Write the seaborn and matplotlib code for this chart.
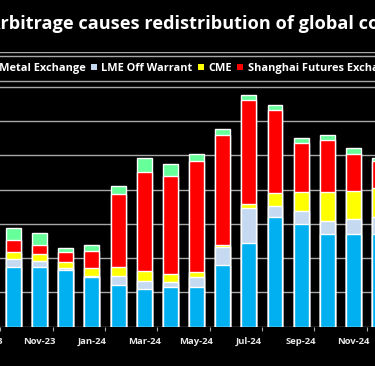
import matplotlib
matplotlib.use("Agg")
import matplotlib.pyplot as plt
from matplotlib.patches import Patch
import seaborn as sns
import numpy as np

sns.set_theme(style="dark", rc={"figure.facecolor": "black", "axes.facecolor": "black",
                                "savefig.facecolor": "black"})
plt.rcParams['font.family'] = ['Open Sans', 'DejaVu Sans']

# monthly stocks, thousand tonnes
months = ["Oct-23", "Nov-23", "Dec-23", "Jan-24", "Feb-24", "Mar-24", "Apr-24", "May-24",
          "Jun-24", "Jul-24", "Aug-24", "Sep-24", "Oct-24", "Nov-24", "Dec-24"]
lme = [173, 173, 166, 145, 121, 111, 116, 115, 181, 245, 319, 300, 271, 270, 271]
lme_off = [25, 20, 6, 4, 26, 22, 14, 30, 50, 101, 33, 36, 38, 44, 48]
cme = [20, 19, 17, 23, 26, 28, 23, 15, 8, 12, 38, 58, 83, 82, 87]
shfe = [36, 26, 30, 50, 215, 291, 288, 323, 320, 303, 243, 142, 154, 109, 76]
bonded = [34, 34, 10, 17, 23, 41, 33, 22, 19, 14, 15, 14, 14, 16, 10]

series = ["London Metal Exchange", "LME Off Warrant", "CME", "Shanghai Futures Exchange",
          "Shanghai Bonded"]
colors = ["#00b0f0", "#c5d9f1", "#ffff00", "#ff0000", "#66ff99"]
tick_labels = ["Sep-23", "Nov-23", "Jan-24", "Mar-24", "May-24", "Jul-24", "Sep-24", "Nov-24"]
title = "Arbitrage causes redistribution of global copper stocks"

layers = np.cumsum(np.array([lme, lme_off, cme, shfe, bonded]), axis=0)

fig = plt.figure(figsize=(3.75, 3.66), dpi=100)
ax = fig.add_axes([-0.0686, 0.1074, 1.1157, 0.7503])

# stacked bars: draw totals first, each lower layer on top
for i in range(len(series) - 1, -1, -1):
    sns.barplot(x=months, y=layers[i], color=colors[i], saturation=1, width=0.57,
                errorbar=None, ax=ax, zorder=2)

ax.set_xlim(-1.5, 14.5)
ax.set_ylim(0, 801)
ax.set_yticks(np.arange(0, 801, 100))
ax.yaxis.grid(True, color="#a6a6a6", lw=1.0)
ax.xaxis.grid(False)
ax.set_axisbelow(True)
for s in ax.spines.values():
    s.set_visible(False)
ax.tick_params(axis="y", left=False, labelleft=False)

ax.set_xticks(np.arange(-0.5, 15, 2))
ax.set_xticklabels([])
ax.tick_params(axis="x", which="major", bottom=True, direction="out", length=3,
               width=0.8, color="#a6a6a6")
ax.set_xticks(np.arange(-1, 14, 2), minor=True)
ax.set_xticklabels(tick_labels, minor=True, fontsize=6.8, fontweight="bold", color="#e8e8e8")
ax.tick_params(axis="x", which="minor", length=0, pad=7.5)
ax.set_xlabel("")
ax.set_ylabel("")

fig.text(-0.031, 0.921, title, ha="left", va="baseline", fontsize=13.1,
         fontweight="bold", color="white")

handles = [Patch(facecolor=c, edgecolor="none", label=l) for c, l in zip(colors, series)]
fig.legend(handles=handles, loc="center left", bbox_to_anchor=(-0.168, 0.813), ncol=5,
           frameon=True, fancybox=False, facecolor="black", edgecolor="#a6a6a6",
           framealpha=1, prop={"weight": "bold", "size": 7.9}, labelcolor="white",
           handlelength=0.55, handleheight=0.55, handletextpad=0.4, columnspacing=0.5,
           borderpad=0.65, borderaxespad=0)

fig.savefig("out.png", dpi=100)
